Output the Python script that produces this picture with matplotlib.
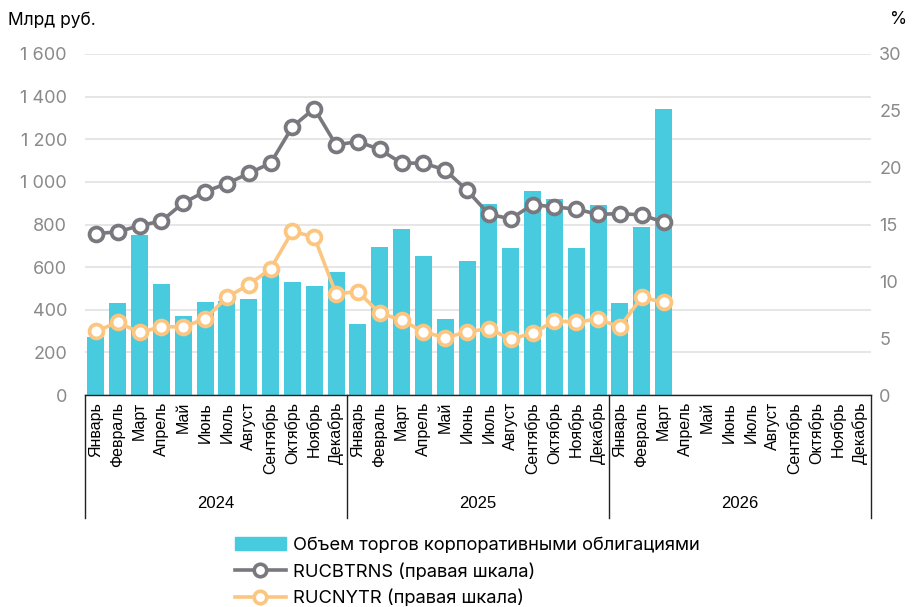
import matplotlib.pyplot as plt
from matplotlib.ticker import FuncFormatter
from matplotlib.lines import Line2D
from matplotlib.patches import Patch

plt.rcParams['font.family'] = ['Inter', 'DejaVu Sans']

# Данные
meses = ["Январь", "Февраль", "Март", "Апрель", "Май", "Июнь", "Июль", "Август",
         "Сентябрь", "Октябрь", "Ноябрь", "Декабрь"]
anios = ["2024", "2025", "2026"]

volumen = [270, 430, 750, 520, 370, 435, 440, 450, 570, 530, 510, 575,
           335, 695, 780, 650, 355, 630, 895, 690, 955, 920, 690, 890,
           430, 790, 1340]
rucbtrns = [14.2, 14.35, 14.9, 15.3, 16.9, 17.9, 18.6, 19.5, 20.4, 23.6, 25.2, 22.0,
            22.3, 21.6, 20.4, 20.4, 19.8, 18.0, 15.9, 15.5, 16.75, 16.55, 16.35, 15.9,
            15.95, 15.85, 15.2]
rucnytr = [5.6, 6.4, 5.5, 6.0, 6.0, 6.7, 8.6, 9.7, 11.1, 14.4, 13.9, 8.9,
           9.1, 7.2, 6.6, 5.55, 5.05, 5.55, 5.85, 4.9, 5.45, 6.5, 6.45, 6.65,
           6.0, 8.6, 8.15]

c_bar = "#48cbdf"
c_gris = "#78787e"
c_nar = "#fcc680"
c_tick = "#8a8a8a"

fig = plt.figure(figsize=(9.15, 6.07), dpi=100)
ax = fig.add_axes([85 / 915, 1 - 395 / 607, 786 / 915, 341 / 607])
ax2 = ax.twinx()

x = list(range(len(volumen)))
ax.bar(x, volumen, width=0.78, color=c_bar, zorder=2)

kw = dict(lw=2.6, marker="o", ms=10, mfc="white", mew=2.7, zorder=3)
ax2.plot(x, rucbtrns, color=c_gris, **kw)
ax2.plot(x, rucnytr, color=c_nar, **kw)

ax.set_xlim(-0.5, 35.5)
ax.set_ylim(0, 1600)
ax2.set_ylim(0, 30)
ax.set_yticks(range(0, 1601, 200))
ax2.set_yticks(range(0, 31, 5))
ax.yaxis.set_major_formatter(FuncFormatter(lambda v, p: f"{int(v):,}".replace(",", " ")))

ax.grid(axis="y", color="#e6e6e6", lw=1.4, zorder=0)
ax.set_axisbelow(True)
for a in (ax, ax2):
    for s in a.spines.values():
        s.set_visible(False)
ax.spines["bottom"].set_visible(True)
ax.spines["bottom"].set_color("#222222")
ax.spines["bottom"].set_linewidth(1.0)

ax.tick_params(axis="y", length=0, labelsize=13, labelcolor=c_tick, pad=13)
ax2.tick_params(axis="y", length=0, labelsize=13, labelcolor=c_tick, pad=6)

# Подписи месяцев и годов
ax.set_xticks(range(36))
ax.set_xticklabels(meses * 3, rotation=90, fontsize=11.5, family="Liberation Sans",
                   va="top")
ax.tick_params(axis="x", length=0, pad=5)

tr = ax.get_xaxis_transform()
for xs in [-0.5, 11.5, 23.5, 35.5]:
    ax.plot([xs, xs], [0, -0.36], transform=tr, color="#222222", lw=1.0, clip_on=False)
for i, a in enumerate(anios):
    ax.text(5.5 + 12 * i, -0.317, a, transform=tr, ha="center", va="center",
            fontsize=12, family="Liberation Sans")

fig.text(8 / 915, 1 - 20 / 607, "Млрд руб.", fontsize=12.5, va="center", ha="left")
fig.text(899 / 915, 1 - 20 / 607, "%", fontsize=12.5, va="center", ha="center")

handles = [
    Patch(color=c_bar),
    Line2D([], [], color=c_gris, lw=2.6, marker="o", ms=9, mfc="white", mew=2.6),
    Line2D([], [], color=c_nar, lw=2.6, marker="o", ms=9, mfc="white", mew=2.6),
]
labels = ["Объем торгов корпоративными облигациями",
          "RUCBTRNS (правая шкала)",
          "RUCNYTR (правая шкала)"]
fig.legend(handles, labels, loc="upper left", bbox_to_anchor=(226 / 915, 1 - 528 / 607),
           frameon=False, fontsize=13.2, handlelength=2.75, handletextpad=0.4,
           labelspacing=0.5, borderpad=0)

fig.savefig("out.png", dpi=100)
